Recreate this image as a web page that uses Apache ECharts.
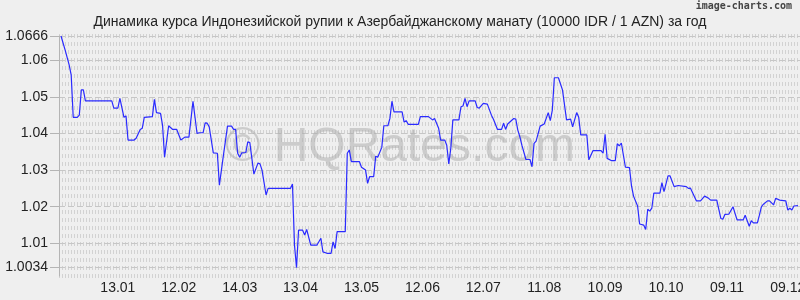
<!DOCTYPE html>
<html><head><meta charset="utf-8">
<script src="https://cdn.jsdelivr.net/npm/echarts@6/dist/echarts.min.js"></script>
<style>html,body{margin:0;padding:0;background:#efefef}#c{width:800px;height:300px}</style>
</head><body><div id="c"></div>
<script>
const titleText = 'Динамика курса Индонезийской рупии к Азербайджанскому манату (10000 IDR / 1 AZN) за год';
// day index = days since 01.01 (negative = previous December)
const dayIndex = [-16,-14,-12,-11,-10,-8,-7,-6,-5,-4,9,10,12,13,15,16,17,20,21,23,24,25,29,30,31,33,34,35,37,39,41,43,45,47,49,51,52,54,55,56,57,59,61,62,64,66,68,69,70,71,72,73,75,76,77,79,81,82,83,85,86,97,98,99,100,101,103,104,105,107,110,112,113,115,117,118,119,120,124,125,126,127,131,132,134,135,136,138,139,140,142,143,145,146,147,148,152,153,154,155,160,161,165,167,168,170,171,173,174,175,176,177,180,181,182,183,184,185,188,189,190,192,194,196,197,199,201,202,203,204,207,208,209,210,211,213,215,216,217,218,220,222,224,225,226,227,229,231,233,235,236,238,239,240,243,244,246,250,251,252,253,255,257,258,259,260,262,264,265,266,268,269,271,272,273,274,275,276,279,280,281,283,284,286,288,292,293,294,297,299,301,303,304,307,309,310,311,313,315,316,317,320,321,323,324,325,327,328,329,330,332,333,335,336,338,341,342,343,344,345,347];
const rateValues = [1.0666,1.0628,1.0587,1.0560,1.0444,1.0444,1.0450,1.0519,1.0519,1.0489,1.0489,1.0469,1.0469,1.0496,1.0444,1.0448,1.0382,1.0382,1.0387,1.0411,1.0414,1.0444,1.0446,1.0493,1.0457,1.0455,1.0423,1.0335,1.0421,1.0411,1.0411,1.0382,1.0390,1.0390,1.0488,1.0400,1.0402,1.0402,1.0429,1.0428,1.0418,1.0347,1.0346,1.0259,1.0341,1.0420,1.0420,1.0411,1.0411,1.0346,1.0335,1.0347,1.0348,1.0377,1.0375,1.0289,1.0319,1.0317,1.0300,1.0232,1.0250,1.0250,1.0262,1.0095,1.0034,1.0136,1.0136,1.0123,1.0138,1.0095,1.0095,1.0114,1.0077,1.0073,1.0073,1.0104,1.0086,1.0132,1.0132,1.0346,1.0355,1.0323,1.0323,1.0308,1.0300,1.0264,1.0282,1.0282,1.0338,1.0335,1.0362,1.0421,1.0421,1.0441,1.0488,1.0459,1.0459,1.0431,1.0435,1.0425,1.0425,1.0446,1.0446,1.0437,1.0441,1.0414,1.0382,1.0382,1.0368,1.0317,1.0360,1.0437,1.0437,1.0473,1.0475,1.0496,1.0473,1.0489,1.0489,1.0471,1.0469,1.0482,1.0480,1.0450,1.0439,1.0411,1.0411,1.0428,1.0411,1.0426,1.0441,1.0439,1.0409,1.0391,1.0368,1.0329,1.0329,1.0309,1.0373,1.0379,1.0420,1.0426,1.0457,1.0435,1.0464,1.0552,1.0552,1.0519,1.0437,1.0439,1.0418,1.0457,1.0444,1.0396,1.0396,1.0328,1.0353,1.0353,1.0346,1.0398,1.0332,1.0326,1.0326,1.0372,1.0366,1.0374,1.0308,1.0307,1.0257,1.0229,1.0202,1.0153,1.0150,1.0138,1.0193,1.0188,1.0196,1.0237,1.0237,1.0266,1.0241,1.0284,1.0284,1.0255,1.0258,1.0255,1.0250,1.0251,1.0216,1.0216,1.0229,1.0223,1.0218,1.0218,1.0168,1.0166,1.0179,1.0180,1.0200,1.0182,1.0164,1.0164,1.0177,1.0147,1.0162,1.0156,1.0156,1.0177,1.0200,1.0207,1.0216,1.0216,1.0205,1.0223,1.0218,1.0216,1.0191,1.0196,1.0191,1.0202,1.0203];
const tickDays = [12,42,72,102,132,162,192,222,252,282,312,342];
const tickLabels = ['13.01','12.02','14.03','13.04','13.05','12.06','12.07','11.08','10.09','10.10','09.11','09.12'];
const yTickValues = [1.0034,1.01,1.02,1.03,1.04,1.05,1.06,1.0666];

const chart = echarts.init(document.getElementById('c'), null, {renderer:'canvas'});
const font = 'Liberation Sans, Arial, sans-serif';
chart.setOption({
  backgroundColor: '#efefef',
  animation: false,
  title: {
    text: titleText, left: 'center', top: 10,
    textStyle: {fontFamily: font, fontSize: 14, fontWeight: 'normal', color: '#222'}
  },
  graphic: [
    {type:'text', right: 8, top: 1, z: 10,
     style:{text:'image-charts.com', font:'bold 10px DejaVu Sans Mono, monospace', fill:'#444'}},
    {type:'text', x: 400, y: 148, z: 1,
     style:{text:'© HQRates.com', font:'48px Liberation Sans, Arial, sans-serif', fill:'rgba(170,170,170,0.5)', align:'center', verticalAlign:'middle'}}
  ],
  grid: {left: 59, right: 0, top: 36, bottom: 24, outerBoundsMode: 'none'},
  xAxis: {
    type: 'value', min: -17, max: 348,
    axisLine: {show: false},
    axisTick: {show: false, customValues: tickDays},
    splitLine: {show: false},
    axisLabel: {
      customValues: tickDays, margin: 5, hideOverlap: false,
      alignMaxLabel: 'center', alignMinLabel: 'center',
      fontFamily: font, fontSize: 14, color: '#222',
      formatter: v => tickLabels[tickDays.indexOf(Math.round(v))] || ''
    }
  },
  yAxis: [
    {
      type: 'value', min: 0, max: 30, interval: 1, position: 'right',
      axisLine: {show: false}, axisTick: {show: false}, axisLabel: {show: false},
      splitLine: {show: true, lineStyle: {color: '#d2d2d2', width: 4, type: [1, 2]}}
    },
    {
      type: 'value', min: 1.0011, max: 1.0666, position: 'left',
      axisLine: {show: true, lineStyle: {color: '#b4b4b4', width: 1}},
      axisTick: {show: true, length: 9, customValues: yTickValues, lineStyle: {color: '#b4b4b4'}},
      splitLine: {show: true, lineStyle: {color: '#c6c6c6', width: 1, type: [6, 3]}},
      axisLabel: {
        customValues: yTickValues, margin: 11,
        fontFamily: font, fontSize: 14, color: '#222',
        formatter: v => String(+(+v).toFixed(4))
      }
    }
  ],
  series: [{
    type: 'line', yAxisIndex: 1, z: 5,
    data: dayIndex.map((d, i) => [d, rateValues[i]]),
    showSymbol: false, symbol: 'none',
    lineStyle: {color: '#2a2aff', width: 1.2},
    clip: false
  }]
});
</script></body></html>
